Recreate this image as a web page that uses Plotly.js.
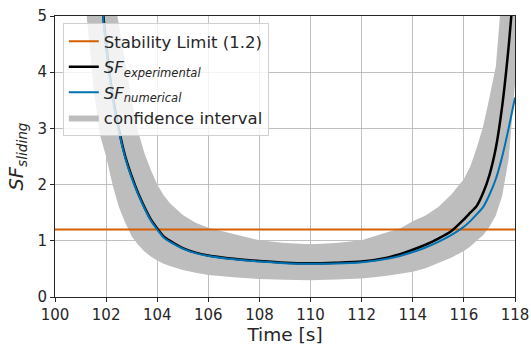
<!DOCTYPE html>
<html>
<head>
<meta charset="utf-8">
<script src="https://cdn.plot.ly/plotly-3.0.1.min.js"></script>
<style>html,body{margin:0;padding:0;background:#fff;}#chart{width:531px;height:345px;}</style>
</head>
<body>
<div id="chart"></div>
<script>
// ---- data ----
const time = [101.0, 101.25, 101.5, 101.75, 102.0, 102.25, 102.5, 102.75, 103.0, 103.25, 103.5, 103.75, 104.0, 104.25, 104.5, 105.0, 105.5, 106, 107, 108, 109, 110, 111, 112, 113, 113.5, 114, 114.5, 115, 115.5, 116, 116.25, 116.5, 116.75, 117, 117.25, 117.5, 117.75, 118];
const sfExperimental = [12, 9, 7.2, 5.7, 4.5, 3.6, 2.98, 2.5, 2.15, 1.85, 1.6, 1.38, 1.22, 1.08, 1.0, 0.87, 0.79, 0.74, 0.68, 0.64, 0.61, 0.60, 0.61, 0.63, 0.70, 0.76, 0.84, 0.93, 1.04, 1.17, 1.38, 1.5, 1.62, 1.85, 2.17, 2.65, 3.4, 4.45, 5.8];
const sfNumerical = [11.8, 8.9, 7.1, 5.6, 4.45, 3.55, 2.95, 2.47, 2.12, 1.83, 1.58, 1.36, 1.2, 1.06, 0.98, 0.86, 0.78, 0.73, 0.67, 0.63, 0.60, 0.59, 0.595, 0.62, 0.68, 0.73, 0.80, 0.88, 0.98, 1.1, 1.25, 1.35, 1.47, 1.6, 1.82, 2.1, 2.5, 3.0, 3.55];
const ciLower = [7.0, 4.95, 3.75, 2.9, 2.5, 2.0, 1.6, 1.32, 1.08, 0.93, 0.81, 0.72, 0.65, 0.59, 0.55, 0.48, 0.43, 0.39, 0.35, 0.32, 0.305, 0.30, 0.31, 0.33, 0.38, 0.41, 0.45, 0.51, 0.6, 0.7, 0.82, 0.9, 1.0, 1.1, 1.25, 1.45, 1.8, 2.45, 3.8];
const ciUpper = [12, 10, 8.2, 6.8, 6.0, 5.5, 4.85, 4.2, 3.5, 2.95, 2.56, 2.26, 2.0, 1.81, 1.67, 1.46, 1.32, 1.23, 1.12, 1.01, 0.96, 0.94, 0.96, 1.01, 1.15, 1.22, 1.35, 1.45, 1.6, 1.82, 2.1, 2.32, 2.65, 3.03, 3.55, 4.1, 5.5, 6.5, 7.5];
const limitTime = [100, 118];
const stabilityLimit = [1.2, 1.2];
const xTicks = [100, 102, 104, 106, 108, 110, 112, 114, 116, 118];
const yTicks = [0, 1, 2, 3, 4, 5];

const FONT = 'DejaVu Sans, Liberation Sans, sans-serif';
const bandColor = '#bdbdbd';

const traces = [
  {x: time, y: ciLower, type: 'scatter', mode: 'lines', line: {width: 0, color: bandColor},
   showlegend: false, hoverinfo: 'skip', legendgroup: 'ci'},
  {x: time, y: ciUpper, type: 'scatter', mode: 'lines', line: {width: 0, color: bandColor},
   fill: 'tonexty', fillcolor: bandColor, name: 'confidence interval', legendrank: 4, legendgroup: 'ci'},
  {x: limitTime, y: stabilityLimit, type: 'scatter', mode: 'lines', line: {width: 2, color: '#d55e00'},
   name: 'Stability Limit (1.2)', legendrank: 1, legendgroup: 'lim'},
  {x: time, y: sfExperimental, type: 'scatter', mode: 'lines', line: {width: 2.5, color: '#000000', shape: 'spline', smoothing: 0.6},
   name: '<i>SF</i><sub><i>experimental</i></sub>', legendrank: 2, legendgroup: 'exp'},
  {x: time, y: sfNumerical, type: 'scatter', mode: 'lines', line: {width: 2, color: '#0072b2', shape: 'spline', smoothing: 0.6},
   name: '<i>SF</i><sub><i>numerical</i></sub>', legendrank: 3, legendgroup: 'num'}
];

const axisCommon = {
  showline: true, linecolor: '#262626', linewidth: 1, mirror: true,
  ticks: 'outside', ticklen: 4, tickwidth: 1, tickcolor: '#262626',
  showgrid: true, gridcolor: '#b0b0b0', gridwidth: 0.8, zeroline: false,
  tickfont: {family: FONT, size: 15, color: '#262626'}
};

const layout = {
  width: 531, height: 345,
  margin: {l: 55, r: 16, t: 16, b: 48},
  paper_bgcolor: '#ffffff', plot_bgcolor: '#ffffff',
  font: {family: FONT, color: '#262626'},
  xaxis: Object.assign({}, axisCommon, {
    range: [100, 118], tickvals: xTicks, ticktext: xTicks.map(String),
    title: {text: 'Time [s]', font: {family: FONT, size: 18.5, color: '#262626'}, standoff: 0}
  }),
  yaxis: Object.assign({}, axisCommon, {
    range: [0, 5], tickvals: yTicks, ticktext: yTicks.map(String),
    title: {text: '<i>SF</i><sub><i>sliding</i></sub>', font: {family: FONT, size: 19.5, color: '#262626'}, standoff: 8}
  }),
  legend: {
    x: 0.017, y: 0.975, xanchor: 'left', yanchor: 'top',
    bgcolor: 'rgba(255,255,255,0.8)', bordercolor: '#d0d0d0', borderwidth: 1,
    font: {family: FONT, size: 16.5, color: '#262626'},
    traceorder: 'grouped', tracegroupgap: 1, itemwidth: 30
  },
  showlegend: true
};

Plotly.newPlot('chart', traces, layout, {displayModeBar: false, staticPlot: true});
</script>
</body>
</html>
